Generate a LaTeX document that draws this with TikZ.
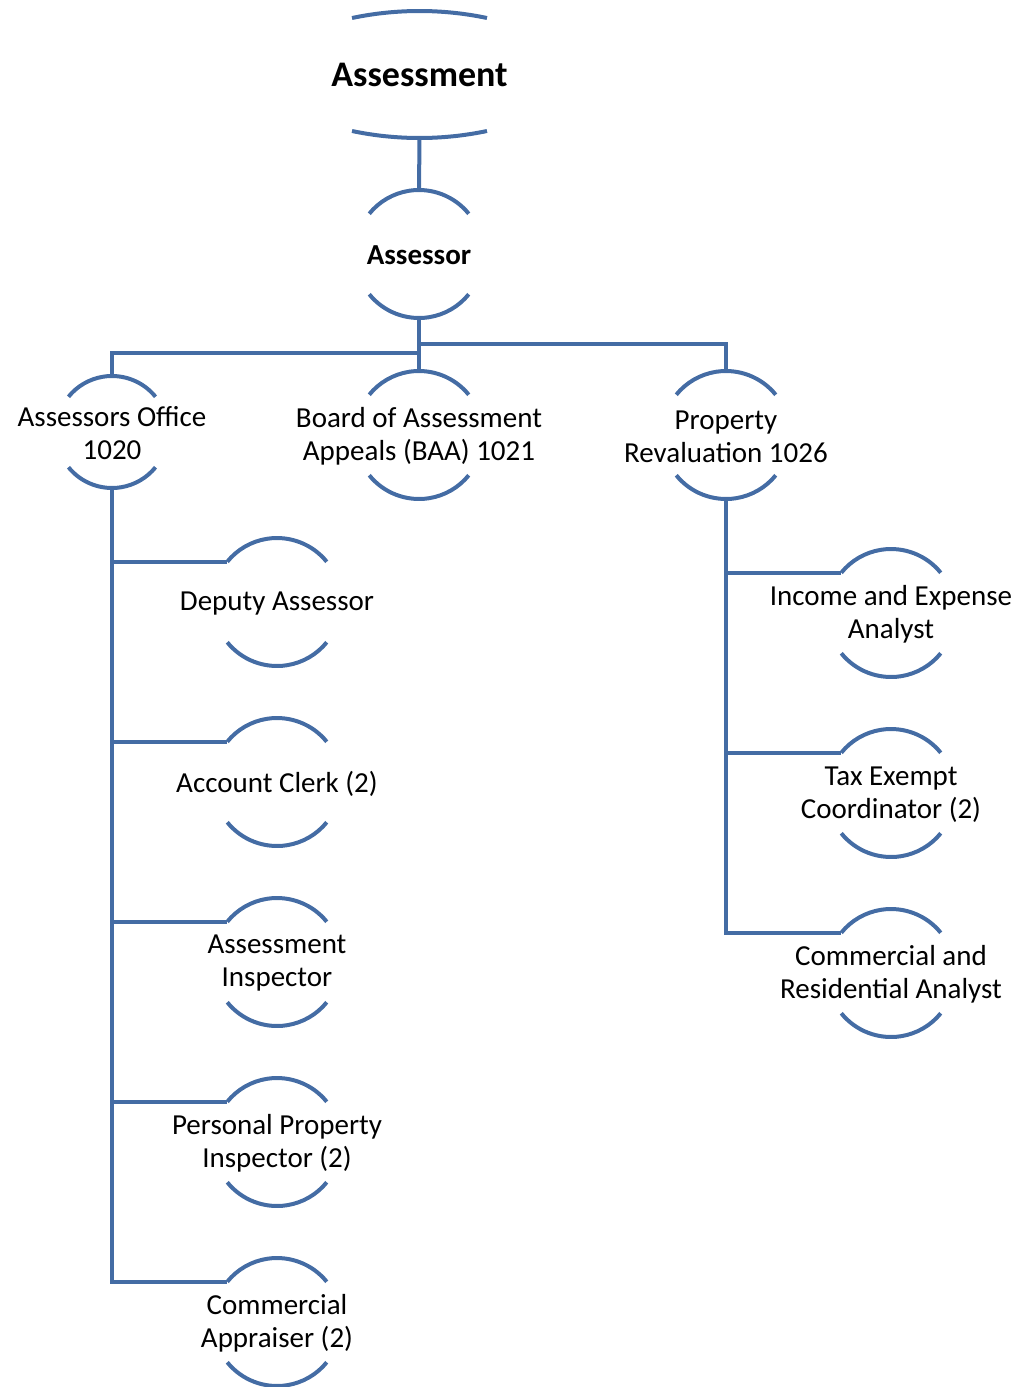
\documentclass[tikz,border=0pt]{standalone}
\usepackage{fontspec}
\setmainfont{Carlito}
\definecolor{orgblue}{RGB}{68,108,164}
\newcommand\ringarcs[2]{\draw[arcline] (#1.39) arc[start angle=39,end angle=141,radius=#2] (#1.219) arc[start angle=219,end angle=321,radius=#2];}
\begin{document}
\begin{tikzpicture}[x=1pt,y=1pt,
  arcline/.style={draw=orgblue, line width=4pt},
  conn/.style={draw=orgblue, line width=4pt},
  ring/.style={circle, minimum size=#1, inner sep=0pt, outer sep=0pt},
  txt/.style={align=center, font=\fontsize{29}{33}\selectfont, inner sep=0pt, yshift=-1.5pt},
]
\useasboundingbox (0,0) rectangle (1032,-1387);

% ring nodes
\node[minimum width=135pt, minimum height=127pt, inner sep=0pt, outer sep=0pt] (assessment) at (419.5,-74.5) {};
\node[ring=128pt] (assessor) at (419,-254) {};
\node[ring=112pt] (office) at (112,-432) {};
\node[ring=128pt] (board) at (419,-435) {};
\node[ring=128pt] (prop) at (726,-435) {};
\node[ring=128pt] (deputy) at (277,-602) {};
\node[ring=128pt] (clerk) at (277,-782) {};
\node[ring=128pt] (inspector) at (277,-962) {};
\node[ring=128pt] (ppi) at (277,-1142) {};
\node[ring=128pt] (appraiser) at (277,-1322) {};
\node[ring=128pt] (income) at (891,-613) {};
\node[ring=128pt] (taxex) at (891,-793) {};
\node[ring=128pt] (comres) at (891,-973) {};

% arcs
\draw[arcline] ([yshift=-7pt]assessment.north west) arc[start angle=101.84,end angle=78.16,radius=329pt]
  ([yshift=7pt]assessment.south west) arc[start angle=258.16,end angle=281.84,radius=329pt];
\ringarcs{assessor}{64pt}
\ringarcs{office}{56pt}
\ringarcs{board}{64pt}
\ringarcs{prop}{64pt}
\ringarcs{deputy}{64pt}
\ringarcs{clerk}{64pt}
\ringarcs{inspector}{64pt}
\ringarcs{ppi}{64pt}
\ringarcs{appraiser}{64pt}
\ringarcs{income}{64pt}
\ringarcs{taxex}{64pt}
\ringarcs{comres}{64pt}

% connectors
\draw[conn] (assessment.south) -- (assessor.north);
\draw[conn] (assessor.south) -- (board.north);
\draw[conn] (assessor.south) -- ++(0,-35) -| (office.north);
\draw[conn] (assessor.south) -- ++(0,-26) -| (prop.north);
\draw[conn] (office.south) |- (deputy.141);
\draw[conn] (office.south) |- (clerk.141);
\draw[conn] (office.south) |- (inspector.141);
\draw[conn] (office.south) |- (ppi.141);
\draw[conn] (office.south) |- (appraiser.141);
\draw[conn] (prop.south) |- (income.141);
\draw[conn] (prop.south) |- (taxex.141);
\draw[conn] (prop.south) |- (comres.141);

% labels
\node[txt, font=\fontsize{36}{40}\selectfont\bfseries, yshift=1.5pt] (assessment-t) at (assessment) {Assessment};
\node[txt, font=\fontsize{29}{33}\selectfont\bfseries] (assessor-t) at (assessor) {Assessor};
\node[txt] (office-t) at (office) {Assessors Office\\1020};
\node[txt] (board-t) at (board) {Board of Assessment\\Appeals (BAA) 1021};
\node[txt] (prop-t) at (prop) {Property\\Revaluation 1026};
\node[txt] (deputy-t) at (deputy) {Deputy Assessor};
\node[txt] (clerk-t) at (clerk) {Account Clerk (2)};
\node[txt] (inspector-t) at (inspector) {Assessment\\Inspector};
\node[txt] (ppi-t) at (ppi) {Personal Property\\Inspector (2)};
\node[txt] (appraiser-t) at (appraiser) {Commercial\\Appraiser (2)};
\node[txt] (income-t) at (income) {Income and Expense\\Analyst};
\node[txt] (taxex-t) at (taxex) {Tax Exempt\\Coordinator (2)};
\node[txt] (comres-t) at (comres) {Commercial and\\Residential Analyst};
\end{tikzpicture}
\end{document}
